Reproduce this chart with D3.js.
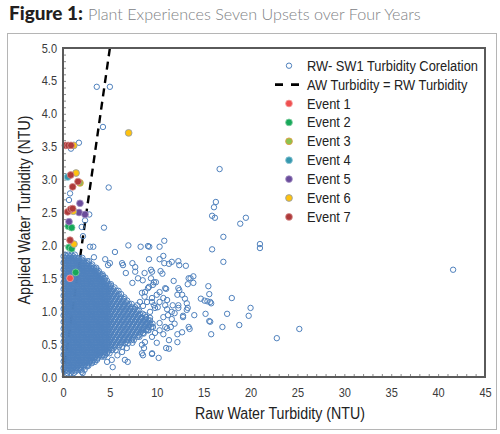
<!DOCTYPE html>
<html><head><meta charset="utf-8">
<script src="https://cdn.jsdelivr.net/npm/d3@7/dist/d3.min.js"></script>
<style>html,body{margin:0;padding:0;background:#fff;}svg{display:block;}</style>
</head><body>
<svg id="chart" width="500" height="434"></svg>
<script>
// ================= DATA =================
const titleBold = "Figure 1:";
const titleText = "Plant Experiences Seven Upsets over Four Years";
const xTitle = "Raw Water Turbidity (NTU)";
const yTitle = "Applied Water Turbidity (NTU)";
const xTickValues = [0, 5, 10, 15, 20, 25, 30, 35, 40, 45];
const yTickValues = [0, 0.5, 1, 1.5, 2, 2.5, 3, 3.5, 4, 4.5, 5];
const seriesNames = ["RW- SW1 Turbidity Corelation", "AW Turbidity = RW Turbidity"];
const eventNames = ["Event 1", "Event 2", "Event 3", "Event 4", "Event 5", "Event 6", "Event 7"];
const eventColors = ["#EF5050", "#17A85A", "#8CC34F", "#3698AE", "#6A4C9B", "#FFC20E", "#AE3A3A"];
const eventEdges  = ["#F6A3A3", "#86D1A4", "#E8963C", "#8EC7D5", "#A895C6", "#8A9BB5", "#D48B8B"];
const ringColor = "#4F81BD";

// AW = RW reference line
const equalityX = [0, 5];
const equalityY = [0, 5];

// Event points [RW, AW]
const event1 = [[0.75, 1.50]];
const event2 = [[0.57, 2.29], [0.92, 2.27], [0.64, 1.97], [0.92, 1.95], [1.35, 1.59]];
const event3 = [[1.81, 2.95]];
const event4 = [[0.50, 3.04]];
const event5 = [[1.81, 2.64], [1.71, 2.50], [2.35, 2.47], [0.64, 2.36]];
const event6 = [[7.0, 3.71], [1.15, 3.52], [1.39, 3.10], [1.10, 2.52], [1.17, 2.02]];
const event7 = [[0.25, 3.52], [0.55, 3.52], [0.85, 3.52], [0.82, 3.07], [1.60, 2.97], [1.03, 2.89],
                [0.50, 2.51], [0.82, 2.55], [1.03, 2.56], [0.75, 2.08]];
const eventSeries = [event1, event2, event3, event4, event5, event6, event7];

// Dense RW-SW1 core, read row by row (AW level, RW values)
const coreRowY = [0.06,0.11,0.16,0.21,0.26,0.31,0.36,0.41,0.46,0.51,0.56,0.61,0.66,0.71,0.76,0.81,0.86,0.91,0.96,
                  1.01,1.06,1.11,1.16,1.21,1.26,1.31,1.36,1.41,1.46,1.51,1.56,1.61,1.66,1.71,1.76,1.81,1.86];
const coreRowX = [
 [0.45,0.8,1.15],
 [0.32,0.68,1.02,1.38,1.7,1.95],
 [0.15,0.5,0.86,1.2,1.55,1.9,2.24,2.55],
 [0.32,0.66,1.02,1.37,1.73,2.07,2.41,2.77,3.08],
 [0.15,0.5,0.85,1.21,1.55,1.9,2.26,2.6,2.95,3.3,3.62],
 [0.32,0.67,1.03,1.37,1.72,2.06,2.42,2.78,3.12,3.47,3.82,4.16,4.38],
 [0.15,0.51,0.85,1.2,1.56,1.9,2.25,2.6,2.94,3.3,3.66,4,4.35,4.68,4.96],
 [0.32,0.67,1.02,1.36,1.72,2.08,2.42,2.77,3.12,3.46,3.82,4.17,4.52,4.87,5.24,5.62],
 [0.15,0.5,0.84,1.2,1.55,1.9,2.26,2.6,2.95,3.3,3.64,4,4.35,4.7,5.05,5.5,5.94,6.32],
 [0.32,0.67,1.02,1.38,1.72,2.07,2.42,2.76,3.12,3.47,3.82,4.18,4.52,4.87,5.25,5.7,6.16,6.6,6.92],
 [0.15,0.5,0.86,1.2,1.55,1.9,2.25,2.6,2.96,3.3,3.65,4,4.36,4.7,5.05,5.5,5.96,6.4,6.85,7.3,7.55],
 [0.32,0.67,1.02,1.37,1.72,2.07,2.43,2.77,3.12,3.47,3.82,4.17,4.52,4.88,5.25,5.7,6.15,6.6,7.05,7.5,7.95,8.15],
 [0.15,0.5,0.85,1.2,1.55,1.9,2.25,2.6,2.95,3.3,3.65,4,4.35,4.7,5.05,5.5,5.95,6.4,6.85,7.3,7.75,8.2,8.6],
 [0.32,0.67,1.02,1.37,1.72,2.07,2.42,2.77,3.12,3.47,3.82,4.17,4.52,4.87,5.25,5.7,6.15,6.6,7.05,7.5,7.95,8.4,8.85,9.12],
 [0.15,0.5,0.85,1.2,1.55,1.9,2.25,2.6,2.95,3.3,3.65,4,4.35,4.7,5.05,5.5,5.95,6.4,6.85,7.3,7.75,8.2,8.65,9.1,9.42],
 [0.32,0.67,1.02,1.37,1.72,2.07,2.42,2.77,3.12,3.47,3.82,4.17,4.52,4.87,5.25,5.7,6.15,6.6,7.05,7.5,7.95,8.4,8.85,9.3,9.55],
 [0.15,0.5,0.85,1.2,1.55,1.9,2.25,2.6,2.95,3.3,3.65,4,4.35,4.7,5.05,5.5,5.95,6.4,6.85,7.3,7.75,8.2,8.65,9.1,9.28],
 [0.32,0.67,1.02,1.37,1.72,2.07,2.42,2.77,3.12,3.47,3.82,4.17,4.52,4.87,5.25,5.7,6.15,6.6,7.05,7.5,7.95,8.4,8.85],
 [0.15,0.5,0.85,1.2,1.55,1.9,2.25,2.6,2.95,3.3,3.65,4,4.35,4.7,5.05,5.5,5.95,6.4,6.85,7.3,7.75,8.2,8.5],
 [0.32,0.67,1.02,1.37,1.72,2.07,2.42,2.77,3.12,3.47,3.82,4.17,4.52,4.87,5.25,5.7,6.15,6.6,7.05,7.5,7.95,8.12],
 [0.15,0.5,0.85,1.2,1.55,1.9,2.25,2.6,2.95,3.3,3.65,4,4.35,4.7,5.05,5.5,5.95,6.4,6.85,7.3,7.68],
 [0.32,0.67,1.02,1.37,1.72,2.07,2.42,2.77,3.12,3.47,3.82,4.17,4.52,4.87,5.25,5.7,6.15,6.6,7.05,7.32],
 [0.15,0.5,0.85,1.2,1.55,1.9,2.25,2.6,2.95,3.3,3.65,4,4.35,4.7,5.05,5.5,5.95,6.4,6.85],
 [0.32,0.67,1.02,1.37,1.72,2.07,2.42,2.77,3.12,3.47,3.82,4.17,4.52,4.87,5.25,5.7,6.15,6.55],
 [0.15,0.5,0.85,1.2,1.55,1.9,2.25,2.6,2.95,3.3,3.65,4,4.35,4.7,5.05,5.5,5.95,6.2],
 [0.32,0.67,1.02,1.37,1.72,2.07,2.42,2.77,3.12,3.47,3.82,4.17,4.52,4.87,5.25,5.7,5.92],
 [0.15,0.5,0.85,1.2,1.55,1.9,2.25,2.6,2.95,3.3,3.65,4,4.35,4.7,5.05,5.5],
 [0.32,0.67,1.02,1.37,1.72,2.07,2.42,2.77,3.12,3.47,3.82,4.17,4.52,4.87,5.12],
 [0.15,0.5,0.85,1.2,1.55,1.9,2.25,2.6,2.95,3.3,3.65,4,4.35,4.7],
 [0.32,0.67,1.02,1.37,1.72,2.07,2.42,2.77,3.12,3.47,3.82,4.17,4.52],
 [0.15,0.5,0.85,1.2,1.55,1.9,2.25,2.6,2.95,3.3,3.65,4,4.22],
 [0.32,0.67,1.02,1.37,1.72,2.07,2.42,2.77,3.12,3.47,3.82],
 [0.15,0.5,0.85,1.2,1.55,1.9,2.25,2.6,2.95,3.3,3.56],
 [0.32,0.67,1.02,1.37,1.72,2.07,2.42,2.77,3.12],
 [0.15,0.5,0.85,1.2,1.55,1.9,2.25,2.6,2.78],
 [0.32,0.67,1.02,1.37,1.72,2.07],
 [0.22,0.56,0.9,1.26]
];
// In-between rows of the same dense core
const coreMidY = [0.085,0.135,0.185,0.235,0.285,0.335,0.385,0.435,0.485,0.535,0.585,0.635,0.685,0.735,0.785,0.835,
                  0.885,0.935,0.985,1.035,1.085,1.135,1.185,1.235,1.285,1.335,1.385,1.435,1.485,1.535,1.585,1.635,
                  1.685,1.735,1.785,1.835];
const coreMidX = [
 [0.15,0.55,0.95,1.35],
 [0.06,0.41,0.76,1.11,1.46,1.81],
 [0.24,0.59,0.94,1.29,1.64,1.99,2.34,2.6],
 [0.06,0.41,0.76,1.11,1.46,1.81,2.16,2.51,2.86,3.15],
 [0.24,0.59,0.94,1.29,1.64,1.99,2.34,2.69,3.04,3.39,3.7],
 [0.06,0.41,0.76,1.11,1.46,1.81,2.16,2.51,2.86,3.21,3.56,3.91,4.26,4.5],
 [0.24,0.59,0.94,1.29,1.64,1.99,2.34,2.69,3.04,3.39,3.74,4.09,4.44,4.79],
 [0.06,0.41,0.76,1.11,1.46,1.81,2.16,2.51,2.86,3.21,3.56,3.91,4.26,4.61,4.96,5.38],
 [0.24,0.59,0.94,1.29,1.64,1.99,2.34,2.69,3.04,3.39,3.74,4.09,4.44,4.79,5.15,5.6,6.05],
 [0.06,0.41,0.76,1.11,1.46,1.81,2.16,2.51,2.86,3.21,3.56,3.91,4.26,4.61,4.96,5.38,5.83,6.28,6.73],
 [0.24,0.59,0.94,1.29,1.64,1.99,2.34,2.69,3.04,3.39,3.74,4.09,4.44,4.79,5.15,5.6,6.05,6.5,6.95,7.4],
 [0.06,0.41,0.76,1.11,1.46,1.81,2.16,2.51,2.86,3.21,3.56,3.91,4.26,4.61,4.96,5.38,5.83,6.28,6.73,7.18,7.63,8.08],
 [0.24,0.59,0.94,1.29,1.64,1.99,2.34,2.69,3.04,3.39,3.74,4.09,4.44,4.79,5.15,5.6,6.05,6.5,6.95,7.4,7.85,8.3],
 [0.06,0.41,0.76,1.11,1.46,1.81,2.16,2.51,2.86,3.21,3.56,3.91,4.26,4.61,4.96,5.38,5.83,6.28,6.73,7.18,7.63,8.08,8.53,8.98],
 [0.24,0.59,0.94,1.29,1.64,1.99,2.34,2.69,3.04,3.39,3.74,4.09,4.44,4.79,5.15,5.6,6.05,6.5,6.95,7.4,7.85,8.3,8.75,9.2],
 [0.06,0.41,0.76,1.11,1.46,1.81,2.16,2.51,2.86,3.21,3.56,3.91,4.26,4.61,4.96,5.38,5.83,6.28,6.73,7.18,7.63,8.08,8.53,8.98],
 [0.24,0.59,0.94,1.29,1.64,1.99,2.34,2.69,3.04,3.39,3.74,4.09,4.44,4.79,5.15,5.6,6.05,6.5,6.95,7.4,7.85,8.3,8.75],
 [0.06,0.41,0.76,1.11,1.46,1.81,2.16,2.51,2.86,3.21,3.56,3.91,4.26,4.61,4.96,5.38,5.83,6.28,6.73,7.18,7.63,8.08],
 [0.24,0.59,0.94,1.29,1.64,1.99,2.34,2.69,3.04,3.39,3.74,4.09,4.44,4.79,5.15,5.6,6.05,6.5,6.95,7.4,7.85],
 [0.06,0.41,0.76,1.11,1.46,1.81,2.16,2.51,2.86,3.21,3.56,3.91,4.26,4.61,4.96,5.38,5.83,6.28,6.73,7.18,7.63],
 [0.24,0.59,0.94,1.29,1.64,1.99,2.34,2.69,3.04,3.39,3.74,4.09,4.44,4.79,5.15,5.6,6.05,6.5,6.95],
 [0.06,0.41,0.76,1.11,1.46,1.81,2.16,2.51,2.86,3.21,3.56,3.91,4.26,4.61,4.96,5.38,5.83,6.28,6.73],
 [0.24,0.59,0.94,1.29,1.64,1.99,2.34,2.69,3.04,3.39,3.74,4.09,4.44,4.79,5.15,5.6,6.05,6.5],
 [0.06,0.41,0.76,1.11,1.46,1.81,2.16,2.51,2.86,3.21,3.56,3.91,4.26,4.61,4.96,5.38,5.83],
 [0.24,0.59,0.94,1.29,1.64,1.99,2.34,2.69,3.04,3.39,3.74,4.09,4.44,4.79,5.15,5.6],
 [0.06,0.41,0.76,1.11,1.46,1.81,2.16,2.51,2.86,3.21,3.56,3.91,4.26,4.61,4.96,5.38],
 [0.24,0.59,0.94,1.29,1.64,1.99,2.34,2.69,3.04,3.39,3.74,4.09,4.44,4.79,5.1],
 [0.06,0.41,0.76,1.11,1.46,1.81,2.16,2.51,2.86,3.21,3.56,3.91,4.26,4.61],
 [0.24,0.59,0.94,1.29,1.64,1.99,2.34,2.69,3.04,3.39,3.74,4.09,4.44],
 [0.06,0.41,0.76,1.11,1.46,1.81,2.16,2.51,2.86,3.21,3.56,3.91,4.26],
 [0.24,0.59,0.94,1.29,1.64,1.99,2.34,2.69,3.04,3.39,3.74],
 [0.06,0.41,0.76,1.11,1.46,1.81,2.16,2.51,2.86,3.21,3.56],
 [0.24,0.59,0.94,1.29,1.64,1.99,2.34,2.69,3.04],
 [0.06,0.41,0.76,1.11,1.46,1.81,2.16,2.51],
 [0.24,0.59,0.94,1.29,1.64,1.99],
 [0.06,0.41,0.76,1.11]
];

// Scattered RW-SW1 points outside the core [RW, AW]
const rwOutliers = [
 [3.6,4.41],[5.0,4.41],[4.26,3.8],[1.7,3.56],[0.85,3.47],[4.87,2.88],[0.75,2.79],[0.64,2.69],[2.8,2.47],
 [2.35,2.38],[1.99,2.28],[4.37,2.27],[2.13,2.14],[2.88,1.98],[3.23,1.98],[5.54,1.9],[6.97,2.0],[8.28,1.98],
 [9.2,1.98],[10.3,1.98],[10.8,2.07],[9.06,1.99],
 [3.3,1.82],[4.5,1.79],[5.0,1.73],[4.8,1.7],[6.4,1.7],[6.3,1.73],[7.4,1.73],[7.7,1.67],[6.7,1.58],[7.7,1.6],
 [8.0,1.5],[7.4,1.43],[8.5,1.47],[8.7,1.58],[9.5,1.6],[8.7,1.22],[8.2,1.14],[7.9,1.09],[7.4,0.52],[6.8,0.44],
 [6.3,0.38],[5.8,0.33],[5.2,0.26],[5.3,0.15],[3.4,0.23],[2.3,0.11],[2.1,0.06],[9.5,0.36],[4.7,0.23],[6.9,0.23],
 [6.6,0.26],[2.7,0.17],[2.0,0.08],
 [10.7,1.84],[9.17,1.79],[10.3,1.79],[10.8,1.73],[11.3,1.72],[11.6,1.75],[12.3,1.76],[12.4,1.70],[13.1,1.69],
 [9.38,1.63],[10.4,1.61],[10.6,1.57],[13.4,1.50],[13.9,1.53],[13.9,1.43],[11.8,1.46],[13.3,1.41],[12.3,1.35],
 [11.0,1.34],[9.38,1.50],[9.91,1.44],[9.17,1.37],[15.5,1.38],[15.6,1.26],[15.7,1.14],[14.7,1.19],[15.1,1.16],
 [18.0,1.20],[15.2,0.96],[17.5,0.96],[15.6,0.85],[17.0,0.76],[18.8,0.79],[20.0,1.05],[19.8,0.93],[22.8,0.59],
 [25.2,0.73],[12.4,1.32],[12.2,1.25],[12.7,1.25],[13.0,1.19],[13.2,1.12],[13.3,1.05],[13.2,1.02],[12.3,1.09],
 [12.8,0.91],[14.0,0.94],[13.4,0.76],[13.5,0.73],[12.7,0.68],[12.2,0.65],[12.2,0.53],[11.3,0.56],[11.0,0.44],
 [11.3,0.43],[10.2,0.29],[9.49,0.35],[8.53,0.33],[10.0,0.52],[10.7,0.65],[11.1,0.74],[10.3,0.82],[10.7,0.91],
 [11.6,0.88],[11.9,0.97],[11.1,1.03],[10.9,1.09],[10.1,1.06],[9.7,1.09],[9.49,1.14],[9.7,1.44],[9.59,1.40],
 [9.06,1.35],[8.74,1.29],[8.42,1.28],[10.9,1.35],[10.3,1.29],[10.0,1.25],[9.49,1.20],[8.96,1.14],[8.53,1.08],
 [10.7,1.20],[11.1,1.17],[10.3,1.14],[9.81,1.05],[9.28,0.99],[8.74,0.94],[8.42,0.90],[9.28,0.90],[8.96,0.82],
 [9.59,0.76],[9.06,0.71],[8.53,0.67],[9.49,0.61],[8.74,0.53],[8.42,0.49],[8.64,0.44],[8.42,0.36],[11.7,1.09],
 [12.3,1.05],[11.6,0.99],[11.2,0.94],[11.9,0.81],[11.5,0.76],[10.9,0.76],[10.3,0.71],[9.81,0.67],
 [16.7,3.16],[16.3,2.66],[16.1,2.58],[15.9,2.45],[16.2,2.42],[18.9,2.33],[19.5,2.42],[17.1,2.13],[15.9,1.94],
 [21.0,2.02],[21.0,1.96],[17.1,1.75],[41.6,1.63],[13.6,1.5],[15.8,1.12],[15.4,1.15],[12.8,0.93],[15.7,0.84],[15.8,0.65]
];

// ================= DRAWING =================
const svg = d3.select("#chart");
const plot = {left: 63, right: 485, top: 48, bottom: 377};
const x = d3.scaleLinear().domain([0, 45]).range([plot.left, plot.right]);
const y = d3.scaleLinear().domain([0, 5]).range([plot.bottom, plot.top]);
const sansFont = "'Liberation Sans',Arimo,Arial,sans-serif";
const ringR = 2.7, ringW = 1.0;

// horizontally condensed text (Arial-Narrow look), optionally fitted to a target width
function narrowText(parent, tx, ty, str, fs, anchor, targetW, rot) {
  const t = parent.append("text").attr("font-family", sansFont).attr("font-size", fs)
    .attr("text-anchor", anchor).attr("fill", "#222").text(str);
  let s = 0.84;
  if (targetW) s = targetW / t.node().getComputedTextLength();
  t.attr("transform", `translate(${tx},${ty})${rot ? " rotate(" + rot + ")" : ""} scale(${s.toFixed(4)},1)`);
  return {node: t, scale: s};
}
function fitWidth(sel, target) {
  const w = sel.node().getComputedTextLength();
  const fs = parseFloat(sel.attr("font-size"));
  const nf = fs * target / w;
  sel.attr("font-size", nf.toFixed(2));
  return nf;
}

// Outer frame
svg.append("rect").attr("x", 7.5).attr("y", 33.5).attr("width", 489).attr("height", 396)
  .attr("fill", "none").attr("stroke", "#b5b5b5").attr("stroke-width", 1);

// Title
const t1 = svg.append("text").attr("x", 9).attr("y", 20)
  .attr("font-family", "Lato, 'Open Sans', sans-serif").attr("font-weight", 900)
  .attr("font-size", 16).attr("fill", "#231f20").text(titleBold);
fitWidth(t1, 74);
const t2 = svg.append("text").attr("x", 88).attr("y", 20)
  .attr("font-family", "Lato, 'Open Sans', sans-serif").attr("font-weight", 300)
  .attr("font-size", 15).attr("fill", "#808285").text(titleText);
fitWidth(t2, 333);

// Minor/major ticks
const tickScale = 0.88;
const xAxis = d3.axisBottom(x).tickValues(d3.range(0, 46, 1)).tickSize(-3).tickPadding(11)
  .tickFormat(d => xTickValues.includes(d) ? String(d) : "");
const yMinor = d3.range(0, 51, 1).map(i => +(i / 10).toFixed(1));
const yAxis = d3.axisLeft(y).tickValues(yMinor).tickSize(-3).tickPadding(6)
  .tickFormat(d => yTickValues.some(v => Math.abs(v - d) < 1e-9) ? d3.format(".1f")(d) : "");

const gx = svg.append("g").attr("transform", `translate(0,${plot.bottom})`).call(xAxis);
const gy = svg.append("g").attr("transform", `translate(${plot.left},0)`).call(yAxis);
[gx, gy].forEach(g => {
  g.select(".domain").remove();
  g.selectAll(".tick line").attr("stroke", "#6d6d6d").attr("stroke-width", 0.8);
  g.selectAll(".tick text").attr("font-family", sansFont).attr("font-size", 12.5).attr("fill", "#3a3a3a")
    .attr("transform", `scale(${tickScale},1)`);
});
gy.selectAll(".tick text").attr("x", -6 / tickScale);

// Reference line AW = RW (beneath the cloud)
svg.append("line")
  .attr("x1", x(equalityX[0])).attr("y1", y(equalityY[0]))
  .attr("x2", x(equalityX[1])).attr("y2", y(equalityY[1]))
  .attr("stroke", "#000").attr("stroke-width", 2.4).attr("stroke-dasharray", "8,5.5");

// RW-SW1 cloud
const corePts = [];
coreRowY.forEach((yy, i) => coreRowX[i].forEach(xx => corePts.push([xx, yy])));
coreMidY.forEach((yy, i) => coreMidX[i].forEach(xx => corePts.push([xx, yy])));
const allRings = corePts.concat(rwOutliers);
svg.append("g").selectAll("circle").data(allRings).join("circle")
  .attr("cx", d => x(d[0])).attr("cy", d => y(d[1])).attr("r", ringR)
  .attr("fill", "none").attr("stroke", ringColor).attr("stroke-width", ringW);

// Events
eventSeries.forEach((pts, k) => {
  svg.append("g").selectAll("circle").data(pts).join("circle")
    .attr("cx", d => x(d[0])).attr("cy", d => y(d[1])).attr("r", 3.4)
    .attr("fill", eventColors[k]).attr("stroke", eventEdges[k]).attr("stroke-width", 0.8);
});

// Plot border
svg.append("rect").attr("x", plot.left).attr("y", plot.top)
  .attr("width", plot.right - plot.left).attr("height", plot.bottom - plot.top)
  .attr("fill", "none").attr("stroke", "#5a5a5a").attr("stroke-width", 2);

// Axis titles
const xt = narrowText(svg, 280, 419, xTitle, 16, "middle", 170);
narrowText(svg, 29.5, 210, yTitle, 16, "middle", null, -90).node
  .attr("transform", `translate(29.5,210) rotate(-90) scale(${xt.scale.toFixed(4)},1)`);

// Legend
const legendLabels = seriesNames.concat(eventNames);
const lg = svg.append("g");
const rowH = 18.9, ly0 = 65.7, markX = 289, textX = 307, legFs = 14;
const first = narrowText(lg, textX, ly0 + 5, legendLabels[0], legFs, "start", 171);
legendLabels.forEach((lab, i) => {
  const cy = ly0 + i * rowH;
  if (i > 0) {
    const t = narrowText(lg, textX, cy + 5, lab, legFs, "start", null);
    t.node.attr("transform", `translate(${textX},${cy + 5}) scale(${first.scale.toFixed(4)},1)`);
  }
  if (i === 0) {
    lg.append("circle").attr("cx", markX).attr("cy", cy).attr("r", ringR)
      .attr("fill", "none").attr("stroke", ringColor).attr("stroke-width", ringW);
  } else if (i === 1) {
    lg.append("line").attr("x1", 275).attr("x2", 300).attr("y1", cy).attr("y2", cy)
      .attr("stroke", "#000").attr("stroke-width", 2.6).attr("stroke-dasharray", "8,8");
  } else {
    lg.append("circle").attr("cx", markX).attr("cy", cy).attr("r", 3.4)
      .attr("fill", eventColors[i - 2]).attr("stroke", eventEdges[i - 2]).attr("stroke-width", 0.8);
  }
});
</script>
</body></html>
